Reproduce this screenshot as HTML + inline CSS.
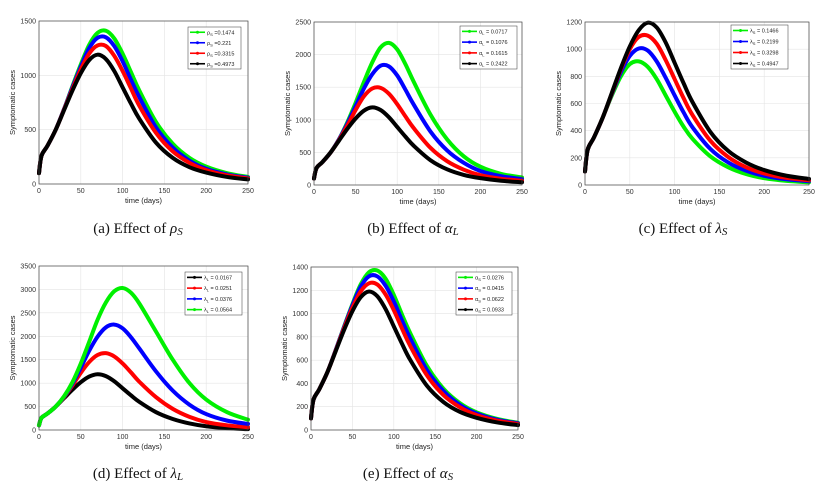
<!DOCTYPE html>
<html><head><meta charset="utf-8"><style>
html,body{margin:0;padding:0;background:#fff;}
svg{display:block;}
text{font-family:"Liberation Sans",sans-serif;}
.cap{font-family:"Liberation Serif",serif;font-size:15px;fill:#111;}
</style></head><body>
<svg id="fig" width="838" height="497" viewBox="0 0 838 497"></svg>
<script>
const days = [0,3,10,20,30,40,50,60,70,80,90,100,110,120,140,160,180,200,225,250];
const xTicks = [0,50,100,150,200,250];
const baseBlack = [100,260,350,500,680,860,1020,1140,1190,1150,1040,890,740,600,380,240,155,105,65,42];
const aGreen = [100,260,350,500,690,900,1100,1280,1390,1410,1340,1200,1030,860,570,370,240,160,100,65];
const aBlue  = [100,260,350,500,690,890,1080,1250,1345,1350,1270,1130,960,800,520,335,215,140,88,58];
const aRed   = [100,260,350,500,685,875,1055,1200,1275,1270,1180,1040,880,720,470,300,195,128,80,52];
const bGreen = [100,260,350,500,700,960,1260,1580,1880,2110,2180,2080,1850,1580,1080,700,440,280,170,115];
const bBlue  = [100,260,350,500,700,940,1210,1480,1700,1830,1820,1680,1460,1230,820,530,340,215,135,90];
const bRed   = [100,260,350,500,690,910,1150,1360,1480,1490,1400,1240,1050,870,570,365,235,150,95,65];
const cGreen = [100,260,350,500,660,800,890,910,870,780,660,540,430,340,210,130,80,50,30,20];
const cBlue  = [100,260,350,500,670,830,950,1005,990,910,790,660,535,425,265,165,105,68,42,28];
const cRed   = [100,260,350,500,675,850,1000,1090,1100,1040,920,780,640,515,325,205,130,85,52,35];
const cBlack = [100,260,350,500,680,860,1020,1140,1195,1160,1050,900,750,610,390,250,165,110,68,45];
const dGreen = [100,260,350,500,720,1020,1420,1880,2350,2720,2960,3030,2930,2700,2100,1500,1000,650,380,220];
const dBlue  = [100,260,350,500,710,990,1330,1690,1990,2190,2250,2170,1980,1740,1250,840,540,340,200,130];
const dRed   = [100,260,350,500,700,950,1220,1450,1600,1640,1570,1420,1230,1030,700,450,280,170,100,60];
const dBlack = [100,260,350,500,680,860,1020,1140,1190,1150,1040,890,740,600,380,235,140,80,40,18];
const eGreen = [100,260,350,500,690,890,1080,1250,1355,1370,1300,1160,990,830,550,355,230,152,95,62];
const eBlue  = [100,260,350,500,690,885,1070,1230,1320,1320,1240,1105,940,785,515,335,215,142,88,58];
const eRed   = [100,260,350,500,685,875,1050,1190,1260,1250,1165,1030,870,720,470,300,195,128,80,52];
const yTicksA = [0,500,1000,1500];
const yTicksB = [0,500,1000,1500,2000,2500];
const yTicksC = [0,200,400,600,800,1000,1200];
const yTicksD = [0,500,1000,1500,2000,2500,3000,3500];
const yTicksE = [0,200,400,600,800,1000,1200,1400];
const labelsA = ["0.1474","0.221","0.3315","0.4973"];
const labelsB = ["0.0717","0.1076","0.1615","0.2422"];
const labelsC = ["0.1466","0.2199","0.3298","0.4947"];
const labelsD = ["0.0167","0.0251","0.0376","0.0564"];
const labelsE = ["0.0276","0.0415","0.0622","0.0933"];

const NS="http://www.w3.org/2000/svg";
const svg=document.getElementById('fig');
function mk(tag,attrs,parent){const e=document.createElementNS(NS,tag);for(const k in attrs)e.setAttribute(k,attrs[k]);(parent||svg).appendChild(e);return e;}

const G='#00f000',B='#0000ff',R='#ff0000',K='#000000';
const panels=[
 {id:'a',L:39,Rr:248,T:21,Bt:184,ymax:1500,yt:yTicksA,sym:'ρ',sub:'S',lab:labelsA,sep:' =',
  series:[[aGreen,G],[aBlue,B],[aRed,R],[baseBlack,K]],legCols:[G,B,R,K],leg:[188,27,241,69],cap:'(a)  Effect of ',cx:138,cy:233,cs:'ρ',cb:'S'},
 {id:'b',L:314,Rr:522,T:22,Bt:185,ymax:2500,yt:yTicksB,sym:'α',sub:'L',lab:labelsB,sep:' = ',
  series:[[bGreen,G],[bBlue,B],[bRed,R],[baseBlack,K]],legCols:[G,B,R,K],leg:[460,26,517,69],cap:'(b)  Effect of ',cx:413,cy:233,cs:'α',cb:'L'},
 {id:'c',L:585,Rr:809,T:22,Bt:185,ymax:1200,yt:yTicksC,sym:'λ',sub:'S',lab:labelsC,sep:' = ',
  series:[[cGreen,G],[cBlue,B],[cRed,R],[cBlack,K]],legCols:[G,B,R,K],leg:[731,25,788,69],cap:'(c)  Effect of ',cx:683,cy:233,cs:'λ',cb:'S'},
 {id:'d',L:39,Rr:248,T:266,Bt:430,ymax:3500,yt:yTicksD,sym:'λ',sub:'L',lab:labelsD,sep:' = ',
  series:[[dBlack,K],[dRed,R],[dBlue,B],[dGreen,G]],legCols:[K,R,B,G],leg:[185,272,242,315],cap:'(d)  Effect of ',cx:138,cy:478,cs:'λ',cb:'L'},
 {id:'e',L:311,Rr:518,T:267,Bt:430,ymax:1400,yt:yTicksE,sym:'α',sub:'S',lab:labelsE,sep:' = ',
  series:[[eGreen,G],[eBlue,B],[eRed,R],[baseBlack,K]],legCols:[G,B,R,K],leg:[456,272,512,315],cap:'(e)  Effect of ',cx:408,cy:478,cs:'α',cb:'S'}
];
const colName={'#00f000':'green','#0000ff':'blue','#ff0000':'red','#000000':'black'};

function pathFrom(pts){
  let d='M'+pts[0][0]+','+pts[0][1];
  for(let i=0;i<pts.length-1;i++){
    const p0=pts[Math.max(0,i-1)],p1=pts[i],p2=pts[i+1],p3=pts[Math.min(pts.length-1,i+2)];
    const c1x=p1[0]+(p2[0]-p0[0])/6,c1y=p1[1]+(p2[1]-p0[1])/6;
    const c2x=p2[0]-(p3[0]-p1[0])/6,c2y=p2[1]-(p3[1]-p1[1])/6;
    d+=' C'+c1x.toFixed(2)+','+c1y.toFixed(2)+' '+c2x.toFixed(2)+','+c2y.toFixed(2)+' '+p2[0].toFixed(2)+','+p2[1].toFixed(2);
  }
  return d;
}

panels.forEach(p=>{
  const g=mk('g',{});
  
  
  const xs=v=>p.L+(v/250)*(p.Rr-p.L);
  const ys=v=>p.Bt-(v/p.ymax)*(p.Bt-p.T);
  mk('rect',{x:p.L,y:p.T,width:p.Rr-p.L,height:p.Bt-p.T,fill:'#fff'},g);
  xTicks.forEach(t=>{
    const l=mk('line',{x1:xs(t),x2:xs(t),y1:p.T,y2:p.Bt,stroke:'#e4e4e4','stroke-width':0.6},g);
    
    
    const tx=mk('text',{x:xs(t),y:p.Bt+9,'font-size':7,fill:'#333','text-anchor':'middle'},g);
    tx.textContent=t;
    
    
  });
  p.yt.forEach(t=>{
    const l=mk('line',{x1:p.L,x2:p.Rr,y1:ys(t),y2:ys(t),stroke:'#e4e4e4','stroke-width':0.6},g);
    
    
    const tx=mk('text',{x:p.L-3,y:ys(t)+2.5,'font-size':7,fill:'#333','text-anchor':'end'},g);
    tx.textContent=t;
    
    
  });
  p.series.forEach(s=>{
    const pts=days.map((d,i)=>[xs(d),ys(s[0][i])]);
    const path=mk('path',{d:pathFrom(pts),fill:'none',stroke:s[1],'stroke-width':4,'stroke-linejoin':'round','stroke-linecap':'round'},g);
    
    
  });
  const fr=mk('rect',{x:p.L,y:p.T,width:p.Rr-p.L,height:p.Bt-p.T,fill:'none',stroke:'#444','stroke-width':0.7},g);
  
  
  const xl=mk('text',{x:(p.L+p.Rr)/2,y:p.Bt+19,'font-size':7.5,fill:'#222','text-anchor':'middle'},g);
  xl.textContent='time (days)';
  
  
  const yx=p.L-24;
  const yl=mk('text',{x:yx,y:(p.T+p.Bt)/2,'font-size':7.5,fill:'#222','text-anchor':'middle',transform:'rotate(-90 '+yx+' '+((p.T+p.Bt)/2)+')'},g);
  yl.textContent='Symptomatic cases';
  
  
  const [lx1,ly1,lx2,ly2]=p.leg;
  const lg=mk('g',{},g);
  
  
  mk('rect',{x:lx1,y:ly1,width:lx2-lx1,height:ly2-ly1,fill:'#fff',stroke:'#333','stroke-width':0.5},lg);
  const rh=(ly2-ly1)/4;
  p.legCols.forEach((c,i)=>{
    const yy=ly1+rh*(i+0.5);
    const e=mk('g',{},lg);
    
    
    mk('line',{x1:lx1+2,x2:lx1+17,y1:yy,y2:yy,stroke:c,'stroke-width':1.6},e);
    mk('circle',{cx:lx1+9.5,cy:yy,r:1.5,fill:c},e);
    const t=mk('text',{x:lx1+19,y:yy+2,'font-size':5.5,fill:'#222'},e);
    t.appendChild(document.createTextNode(p.sym));
    const sb=mk('tspan',{'font-size':4,dy:1.5},t);sb.textContent=p.sub;
    const rest=mk('tspan',{dy:-1.5},t);rest.textContent=p.sep+p.lab[i];
  });
  const cap=mk('text',{x:p.cx,y:p.cy,class:'cap','text-anchor':'middle'},g);
  cap.appendChild(document.createTextNode(p.cap));
  const ci=mk('tspan',{'font-style':'italic'},cap);ci.textContent=p.cs;
  const cb=mk('tspan',{'font-style':'italic','font-size':11,dy:2},cap);cb.textContent=p.cb;
  
  
});
</script>
</body></html>
